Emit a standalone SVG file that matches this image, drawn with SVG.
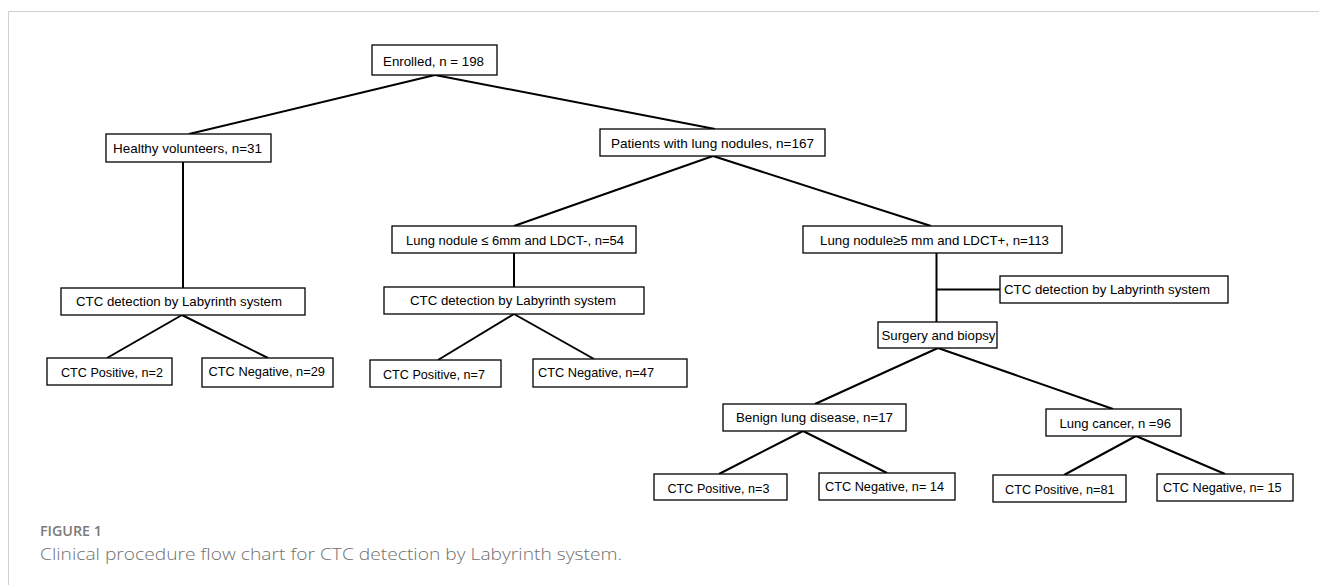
<svg xmlns="http://www.w3.org/2000/svg" width="1319" height="585" viewBox="0 0 1319 585">
<style>
.box{fill:#fff;stroke:#000;stroke-width:1.3}
.t{font-family:"Liberation Sans",Arial,sans-serif;font-size:13.2px;fill:#000}
.c{stroke:#000;stroke-width:2;fill:none}
.cap1{font-family:"Open Sans","Liberation Sans",sans-serif;font-size:14px;font-weight:600;fill:#7a7a7a}
.cap2{font-family:"Open Sans","Liberation Sans",sans-serif;font-size:16.5px;font-weight:300;fill:#707070}
</style>
<rect width="1319" height="585" fill="#fff"/>
<path d="M8.5 585 V11.5 H1319" fill="none" stroke="#cfcfcf" stroke-width="1"/>
<g id="connectors">
<line class="c" x1="435" y1="75" x2="189" y2="134"/>
<line class="c" x1="435" y1="75" x2="715" y2="129"/>
<line class="c" x1="183" y1="162" x2="183" y2="288"/>
<line class="c" x1="713" y1="156" x2="514" y2="226"/>
<line class="c" x1="713" y1="156" x2="931" y2="226"/>
<line class="c" x1="514" y1="253" x2="514" y2="287"/>
<line class="c" x1="182" y1="315" x2="107" y2="358"/>
<line class="c" x1="182" y1="315" x2="268" y2="358"/>
<line class="c" x1="514" y1="314" x2="438" y2="360"/>
<line class="c" x1="514" y1="314" x2="594" y2="359"/>
<line class="c" x1="936.5" y1="253" x2="936.5" y2="322"/>
<line class="c" x1="936.5" y1="289.5" x2="1000" y2="289.5"/>
<line class="c" x1="938" y1="348" x2="815" y2="404"/>
<line class="c" x1="938" y1="348" x2="1113" y2="409"/>
<line class="c" x1="803" y1="431" x2="719" y2="474"/>
<line class="c" x1="803" y1="431" x2="887" y2="473"/>
<line class="c" x1="1136" y1="436" x2="1064" y2="475"/>
<line class="c" x1="1136" y1="436" x2="1225" y2="474"/>
</g>
<g id="enrolled"><rect class="box" x="372" y="45" width="125" height="30"/><text class="t" x="383" y="66" textLength="101" lengthAdjust="spacingAndGlyphs">Enrolled, n = 198</text></g>
<g id="healthy"><rect class="box" x="106" y="134" width="165" height="28"/><text class="t" x="113" y="153" textLength="149" lengthAdjust="spacingAndGlyphs">Healthy volunteers, n=31</text></g>
<g id="patients"><rect class="box" x="600" y="129" width="225" height="27"/><text class="t" x="611" y="148" textLength="203" lengthAdjust="spacingAndGlyphs">Patients with lung nodules, n=167</text></g>
<g id="small-nodule"><rect class="box" x="392" y="226" width="244" height="27"/><text class="t" x="406" y="244.5" textLength="218" lengthAdjust="spacingAndGlyphs">Lung nodule ≤ 6mm and LDCT-, n=54</text></g>
<g id="large-nodule"><rect class="box" x="803" y="226" width="259" height="27"/><text class="t" x="820" y="245" textLength="229" lengthAdjust="spacingAndGlyphs">Lung nodule≥5 mm and LDCT+, n=113</text></g>
<g id="ctc-detect-1"><rect class="box" x="61" y="288" width="244" height="27"/><text class="t" x="76" y="306" textLength="206" lengthAdjust="spacingAndGlyphs">CTC detection by Labyrinth system</text></g>
<g id="ctc-detect-2"><rect class="box" x="384" y="287" width="260" height="27"/><text class="t" x="410" y="305" textLength="206" lengthAdjust="spacingAndGlyphs">CTC detection by Labyrinth system</text></g>
<g id="ctc-detect-3"><rect class="box" x="1000" y="276" width="228" height="27"/><text class="t" x="1004" y="294" textLength="206" lengthAdjust="spacingAndGlyphs">CTC detection by Labyrinth system</text></g>
<g id="surgery"><rect class="box" x="878" y="322" width="119" height="26"/><text class="t" x="881.5" y="340" textLength="114" lengthAdjust="spacingAndGlyphs">Surgery and biopsy</text></g>
<g id="pos-2"><rect class="box" x="47" y="358" width="125" height="27"/><text class="t" x="61" y="377" textLength="102" lengthAdjust="spacingAndGlyphs">CTC Positive, n=2</text></g>
<g id="neg-29"><rect class="box" x="202" y="358" width="131" height="29"/><text class="t" x="208.5" y="376" textLength="116.5" lengthAdjust="spacingAndGlyphs">CTC Negative, n=29</text></g>
<g id="pos-7"><rect class="box" x="370" y="360" width="131" height="27"/><text class="t" x="383" y="378.5" textLength="102" lengthAdjust="spacingAndGlyphs">CTC Positive, n=7</text></g>
<g id="neg-47"><rect class="box" x="533" y="359" width="154" height="28"/><text class="t" x="538" y="377" textLength="116" lengthAdjust="spacingAndGlyphs">CTC Negative, n=47</text></g>
<g id="benign"><rect class="box" x="723" y="404" width="183" height="27"/><text class="t" x="736" y="422" textLength="157" lengthAdjust="spacingAndGlyphs">Benign lung disease,  n=17</text></g>
<g id="cancer"><rect class="box" x="1046" y="409" width="135" height="27"/><text class="t" x="1059.5" y="427.5" textLength="111.5" lengthAdjust="spacingAndGlyphs">Lung cancer, n =96</text></g>
<g id="pos-3"><rect class="box" x="654" y="474" width="133" height="26"/><text class="t" x="667.5" y="492.5" textLength="102" lengthAdjust="spacingAndGlyphs">CTC Positive, n=3</text></g>
<g id="neg-14"><rect class="box" x="819" y="473" width="136" height="27"/><text class="t" x="825" y="491" textLength="119" lengthAdjust="spacingAndGlyphs">CTC Negative, n= 14</text></g>
<g id="pos-81"><rect class="box" x="993" y="475" width="133" height="27"/><text class="t" x="1005" y="493.5" textLength="109.5" lengthAdjust="spacingAndGlyphs">CTC Positive, n=81</text></g>
<g id="neg-15"><rect class="box" x="1157" y="474" width="136" height="27"/><text class="t" x="1163" y="492" textLength="118.5" lengthAdjust="spacingAndGlyphs">CTC Negative, n= 15</text></g>
<text class="cap1" x="40" y="536" textLength="62" lengthAdjust="spacingAndGlyphs">FIGURE 1</text>
<text class="cap2" x="40" y="560" textLength="582" lengthAdjust="spacingAndGlyphs">Clinical procedure flow chart for CTC detection by Labyrinth system.</text>
</svg>
